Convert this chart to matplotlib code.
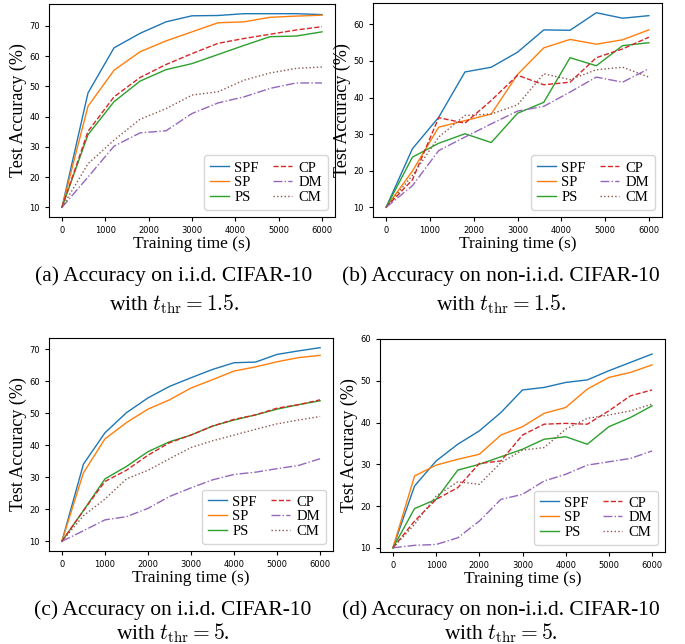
import matplotlib
matplotlib.use("Agg")
import matplotlib.pyplot as plt

plt.rcParams['mathtext.fontset'] = 'cm'

labels = ["SPF", "SP", "PS", "CP", "DM", "CM"]
colors = ["#1f77b4", "#ff7f0e", "#2ca02c", "#d62728", "#9467bd", "#8c564b"]
styles = ["-", "-", "-", "--", "-.", ":"]

# (a) i.i.d., t_thr = 1.5
x_a = [0, 600, 1200, 1800, 2400, 3000, 3600, 4200, 4800, 5400, 6000]
a_spf = [10, 47.8, 62.7, 67.5, 71.3, 73.3, 73.4, 74.0, 74.0, 74.0, 73.7]
a_sp = [10, 43.4, 55.3, 61.4, 65.0, 68.0, 71.0, 71.3, 72.8, 73.2, 73.5]
a_ps = [10, 34.0, 44.9, 51.7, 55.5, 57.5, 60.5, 63.5, 66.4, 66.6, 68.0]
a_cp = [10, 35.1, 46.5, 52.9, 57.2, 60.8, 64.2, 65.8, 67.2, 68.6, 69.7]
a_dm = [10, 20.0, 30.2, 34.6, 35.3, 41.0, 44.5, 46.5, 49.3, 51.1, 51.1]
a_cm = [10, 24.4, 32.2, 39.1, 42.6, 47.1, 48.2, 52.0, 54.4, 55.9, 56.4]

# (b) non-i.i.d., t_thr = 1.5
x_b = [0, 600, 1200, 1800, 2400, 3000, 3600, 4200, 4800, 5400, 6000]
b_spf = [10, 26.0, 34.6, 47.0, 48.3, 52.4, 58.5, 58.4, 63.2, 61.7, 62.4]
b_sp = [10, 19.9, 31.9, 33.7, 35.5, 46.3, 53.6, 55.9, 54.6, 55.8, 58.5]
b_ps = [10, 23.7, 27.5, 30.1, 27.7, 35.7, 38.7, 50.9, 48.7, 54.2, 55.0]
b_cp = [10, 17.5, 34.5, 33.0, 39.2, 46.1, 43.5, 44.2, 50.9, 53.3, 56.5]
b_dm = [10, 15.9, 25.5, 29.2, 32.8, 36.3, 37.6, 41.5, 45.6, 44.2, 47.9]
b_cm = [10, 18.7, 29.2, 35.1, 35.5, 38.0, 46.5, 44.9, 47.6, 48.3, 45.6]

# (c) i.i.d., t_thr = 5
x_c = [0, 500, 1000, 1500, 2000, 2500, 3000, 3500, 4000, 4500, 5000, 5500, 6000]
c_spf = [10, 34.1, 43.9, 50.2, 54.8, 58.4, 61.1, 63.7, 65.8, 66.0, 68.4, 69.5, 70.5]
c_sp = [10, 31.4, 42.0, 47.1, 51.3, 54.2, 57.9, 60.5, 63.2, 64.5, 66.1, 67.4, 68.1]
c_ps = [10, 19.6, 29.5, 33.4, 38.0, 41.1, 43.2, 46.0, 47.9, 49.5, 51.3, 52.7, 53.9]
c_cp = [10, 19.6, 28.7, 32.2, 36.9, 40.8, 43.2, 46.0, 48.1, 49.5, 51.6, 52.7, 54.2]
c_dm = [10, 13.3, 16.7, 17.7, 20.3, 24.0, 26.7, 29.2, 30.9, 31.6, 32.7, 33.7, 35.8]
c_cm = [10, 18.0, 23.2, 29.5, 32.2, 35.8, 39.3, 41.4, 43.2, 45.0, 46.7, 47.9, 49.0]

# (d) non-i.i.d., t_thr = 5
x_d = [0, 500, 1000, 1500, 2000, 2500, 3000, 3500, 4000, 4500, 5000, 5500, 6000]
d_spf = [10, 24.8, 30.8, 34.8, 38.0, 42.4, 47.8, 48.4, 49.6, 50.2, 52.4, 54.4, 56.4]
d_sp = [10, 27.2, 29.8, 31.2, 32.4, 37.0, 39.0, 42.2, 43.6, 48.0, 50.8, 52.0, 53.8]
d_ps = [10, 19.4, 21.6, 28.6, 30.0, 31.8, 33.6, 36.0, 36.6, 34.8, 39.0, 41.2, 44.0]
d_cp = [10, 16.4, 21.6, 24.4, 30.2, 30.8, 37.0, 39.6, 39.8, 39.6, 42.8, 46.4, 47.8]
d_dm = [10, 10.6, 10.8, 12.4, 16.4, 21.6, 22.8, 26.0, 27.6, 29.8, 30.6, 31.4, 33.2]
d_cm = [10, 15.6, 22.4, 25.8, 25.2, 30.4, 33.4, 34.0, 38.4, 41.0, 41.8, 42.8, 44.4]

captions = [
    ("(a) Accuracy on i.i.d. CIFAR-10", r"with $t_{\mathrm{thr}} = 1.5$."),
    ("(b) Accuracy on non-i.i.d. CIFAR-10", r"with $t_{\mathrm{thr}} = 1.5$."),
    ("(c) Accuracy on i.i.d. CIFAR-10", r"with $t_{\mathrm{thr}} = 5$."),
    ("(d) Accuracy on non-i.i.d. CIFAR-10", r"with $t_{\mathrm{thr}} = 5$."),
]

W, H = 685, 644
fig = plt.figure(figsize=(W / 100, H / 100), dpi=100)

panels = [
    (x_a, [a_spf, a_sp, a_ps, a_cp, a_dm, a_cm], (49, 4, 335, 217), None),
    (x_b, [b_spf, b_sp, b_ps, b_cp, b_dm, b_cm], (373, 3, 662, 217), None),
    (x_c, [c_spf, c_sp, c_ps, c_cp, c_dm, c_cm], (49, 338, 333, 551), None),
    (x_d, [d_spf, d_sp, d_ps, d_cp, d_dm, d_cm], (380, 339, 665, 552), (9.0, 60)),
]
cap_pos = [(174, 281, 310), (501, 281, 310), (173, 615, 639), (501, 615, 639)]

serif = ["Liberation Serif", "DejaVu Serif"]

for (xs, series, (l, t, r, b), ylim), (cx, y1, y2), (c1, c2) in zip(panels, cap_pos, captions):
    ax = fig.add_axes([l / W, 1 - b / H, (r - l) / W, (b - t) / H])
    for ys, lab, col, ls in zip(series, labels, colors, styles):
        ax.plot(xs, ys, color=col, linestyle=ls, linewidth=1.0, label=lab)
    if ylim is not None:
        ax.set_ylim(*ylim)
    ax.set_xticks([0, 1000, 2000, 3000, 4000, 5000, 6000])
    ax.tick_params(labelsize=6, length=3, width=0.8)
    ax.set_xlabel("Training time (s)", family=serif, fontsize=12.5, labelpad=1)
    ax.set_ylabel("Test Accuracy (%)", family=serif, fontsize=13, labelpad=2)
    leg = ax.legend(ncol=2, loc="lower right", prop={"family": serif, "size": 10.5},
                    handlelength=1.3, handletextpad=0.4, columnspacing=1.0,
                    labelspacing=0.1, borderpad=0.4)
    fig.text(cx / W, 1 - y1 / H, c1, ha="center", va="baseline", family=serif, fontsize=15.5)
    fig.text(cx / W, 1 - y2 / H, c2, ha="center", va="baseline", family=serif, fontsize=15.5)

fig.savefig("out.png", dpi=100)
